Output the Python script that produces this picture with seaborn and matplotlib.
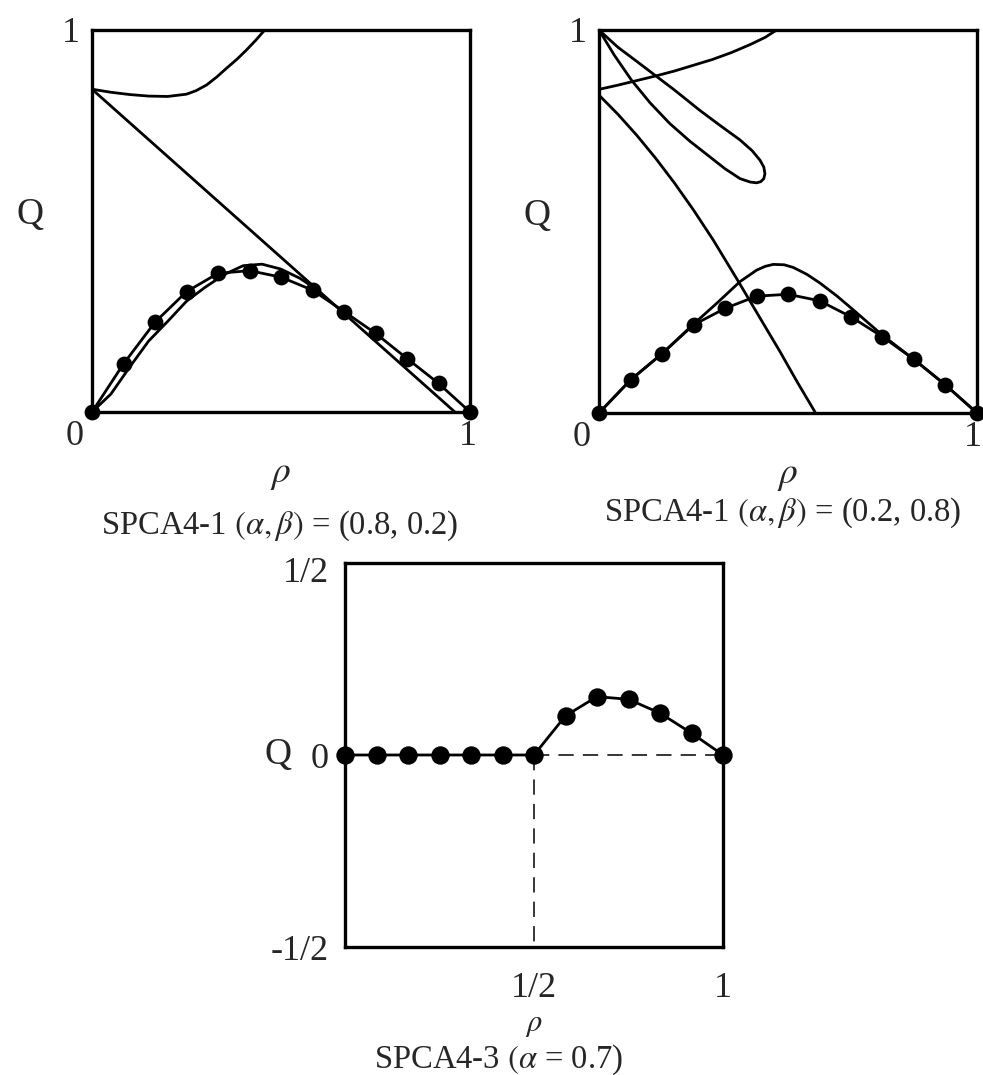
import numpy as np
import pandas as pd
import matplotlib
matplotlib.use("Agg")
import matplotlib.pyplot as plt
import seaborn as sns
from matplotlib.transforms import ScaledTranslation

# ---------------- data ----------------
rho_dots = [0, 1/12, 2/12, 3/12, 4/12, 5/12, 6/12, 7/12, 8/12, 9/12, 10/12, 11/12, 1]

# Panel 1: SPCA4-1 (alpha, beta) = (0.8, 0.2)
p1_dots_q = [0, 0.126, 0.235, 0.315, 0.363, 0.370, 0.353, 0.319, 0.263, 0.206, 0.140, 0.075, 0]
p1_upper_rho = [0, 0.05, 0.1, 0.15, 0.2, 0.25, 0.275, 0.303, 0.33, 0.356, 0.383, 0.409, 0.433, 0.457]
p1_upper_q = [0.845, 0.837, 0.831, 0.827, 0.826, 0.832, 0.841, 0.856, 0.877, 0.900, 0.923, 0.948, 0.973, 1.0]
p1_line_rho = [0, 0.96]
p1_line_q = [0.845, 0]
p1_curve_rho = [0, 0.05, 0.1, 0.15, 0.2, 0.25, 0.3, 0.35, 0.4, 0.45, 0.5, 0.55, 0.6]
p1_curve_q = [0, 0.047, 0.118, 0.186, 0.237, 0.290, 0.327, 0.360, 0.383, 0.387, 0.374, 0.350, 0.317]

# Panel 2: SPCA4-1 (alpha, beta) = (0.2, 0.8)
p2_dots_q = [0, 0.086, 0.155, 0.230, 0.273, 0.305, 0.310, 0.293, 0.251, 0.199, 0.140, 0.073, 0]
p2_hump_rho = [0, 0.083, 0.167, 0.25, 0.311, 0.373, 0.417, 0.44, 0.461, 0.49, 0.514, 0.55, 0.585, 0.63, 0.673, 0.75, 0.833, 0.917, 1.0]
p2_hump_q = [0, 0.086, 0.155, 0.232, 0.286, 0.343, 0.373, 0.383, 0.388, 0.387, 0.380, 0.362, 0.339, 0.305, 0.269, 0.203, 0.140, 0.073, 0]
p2_upper_rho = [0, 0.05, 0.1, 0.15, 0.2, 0.25, 0.3, 0.35, 0.4, 0.44, 0.47]
p2_upper_q = [0.845, 0.856, 0.868, 0.880, 0.893, 0.908, 0.923, 0.941, 0.962, 0.981, 1.0]
p2_loop_rho = [0, 0.05, 0.1, 0.148, 0.2, 0.267, 0.32, 0.373, 0.405, 0.426, 0.436, 0.439, 0.436, 0.428,
               0.417, 0.40, 0.373, 0.333, 0.293, 0.24, 0.187, 0.135, 0.086, 0.04, 0]
p2_loop_q = [1.0, 0.955, 0.918, 0.882, 0.843, 0.790, 0.751, 0.713, 0.685, 0.660, 0.642, 0.625, 0.612, 0.604,
             0.601, 0.603, 0.612, 0.638, 0.669, 0.710, 0.756, 0.810, 0.869, 0.935, 1.0]
p2_desc_rho = [0, 0.05, 0.1, 0.15, 0.2, 0.25, 0.302, 0.369, 0.42, 0.479, 0.525, 0.573]
p2_desc_q = [0.83, 0.78, 0.725, 0.665, 0.60, 0.53, 0.452, 0.343, 0.258, 0.160, 0.080, 0]

# Panel 3: SPCA4-3 (alpha = 0.7)
p3_dots_q = [0, 0, 0, 0, 0, 0, 0, 0.102, 0.152, 0.145, 0.109, 0.057, 0]
p3_rho_c = 0.5

# ---------------- style ----------------
sns.set_theme(style="white")
plt.rcParams["font.family"] = ["Liberation Serif", "DejaVu Serif"]
plt.rcParams["mathtext.fontset"] = "stix"

W, H = 983, 1075
fig = plt.figure(figsize=(W / 100, H / 100), dpi=100)
fig.patch.set_facecolor("white")

LW = 2.0
FS = 26      # tick labels
FQ = 27      # axis labels
FT = 23.5    # titles


def frame(ax):
    for s in ax.spines.values():
        s.set_visible(True)
        s.set_color("black")
        s.set_linewidth(2.4)
    ax.set_facecolor("white")
    ax.grid(False)


def curve(ax, x, y, **kw):
    df = pd.DataFrame({"x": x, "y": y})
    sns.lineplot(data=df, x="x", y="y", ax=ax, sort=False, estimator=None,
                 color="black", lw=kw.pop("lw", LW), **kw)


def dots(ax, y, s):
    df = pd.DataFrame({"x": rho_dots, "y": y})
    sns.lineplot(data=df, x="x", y="y", ax=ax, sort=False, estimator=None,
                 color="black", lw=LW)
    sns.scatterplot(data=df, x="x", y="y", ax=ax, color="black", s=s,
                    edgecolor="black", linewidth=0, zorder=6, clip_on=False)


def shift(label, dx, dy):
    label.set_transform(label.get_transform() +
                        ScaledTranslation(dx / 100, dy / 100, fig.dpi_scale_trans))


def top_panel(ax, title, title_xy, dx_right):
    frame(ax)
    ax.set_xlim(0, 1)
    ax.set_ylim(0, 1)
    ax.set_xticks([0, 1], ["0", "1"])
    ax.set_yticks([1], ["1"])
    ax.tick_params(axis="both", length=0, labelsize=FS)
    ax.tick_params(axis="x", pad=6)
    ax.tick_params(axis="y", pad=8.5)
    xl = ax.get_xticklabels()
    shift(xl[0], -17, 0)
    shift(xl[1], dx_right, 0)
    ax.set_ylabel("Q", rotation=0, fontsize=FQ, va="center", ha="center")
    ax.yaxis.set_label_coords(-0.163, 0.516)
    ax.set_xlabel(r"$\rho$", fontsize=FQ)
    ax.xaxis.set_label_coords(0.5, -0.12)
    ax.text(title_xy[0], title_xy[1], title, transform=ax.transAxes,
            ha="center", va="center", fontsize=FT)


# ---------- panel 1 ----------
ax1 = fig.add_axes([92 / W, 1 - 412 / H, 378 / W, 382 / H])
curve(ax1, p1_upper_rho, p1_upper_q)
curve(ax1, p1_line_rho, p1_line_q)
curve(ax1, p1_curve_rho, p1_curve_q)
dots(ax1, p1_dots_q, 130)
top_panel(ax1, r"SPCA4-1 $(\alpha,\beta)$ = (0.8, 0.2)", (0.497, -0.298), -2)

# ---------- panel 2 ----------
ax2 = fig.add_axes([599 / W, 1 - 413 / H, 378 / W, 383 / H])
curve(ax2, p2_upper_rho, p2_upper_q)
curve(ax2, p2_loop_rho, p2_loop_q)
curve(ax2, p2_desc_rho, p2_desc_q)
curve(ax2, p2_hump_rho, p2_hump_q)
dots(ax2, p2_dots_q, 130)
top_panel(ax2, r"SPCA4-1 $(\alpha,\beta)$ = (0.2, 0.8)", (0.485, -0.26), -4)

# ---------- panel 3 ----------
ax3 = fig.add_axes([345 / W, 1 - 947 / H, 378 / W, 384 / H])
frame(ax3)
ax3.set_xlim(0, 1)
ax3.set_ylim(-0.5, 0.5)
curve(ax3, [p3_rho_c, 1], [0, 0], lw=1.1, linestyle=(0, (10, 6)))
curve(ax3, [p3_rho_c, p3_rho_c], [0, -0.5], lw=1.1, linestyle=(0, (10, 6)))
dots(ax3, p3_dots_q, 175)
ax3.set_xticks([0.5, 1], ["1/2", "1"])
ax3.set_yticks([-0.5, 0, 0.5], ["-1/2", "0", "1/2"])
ax3.tick_params(axis="both", length=0, labelsize=FS)
ax3.tick_params(axis="x", pad=18)
ax3.tick_params(axis="y", pad=11.5)
shift(ax3.get_yticklabels()[2], 0, -7)
ax3.set_ylabel("Q", rotation=0, fontsize=FQ, va="center", ha="center")
ax3.yaxis.set_label_coords(-0.177, 0.5)
ax3.set_xlabel(r"$\rho$", fontsize=22)
ax3.xaxis.set_label_coords(0.5, -0.163)
ax3.text(0.405, -0.294, r"SPCA4-3 $(\alpha$ = 0.7)", transform=ax3.transAxes,
         ha="center", va="center", fontsize=FT)

fig.savefig("out.png", dpi=100, facecolor="white")
